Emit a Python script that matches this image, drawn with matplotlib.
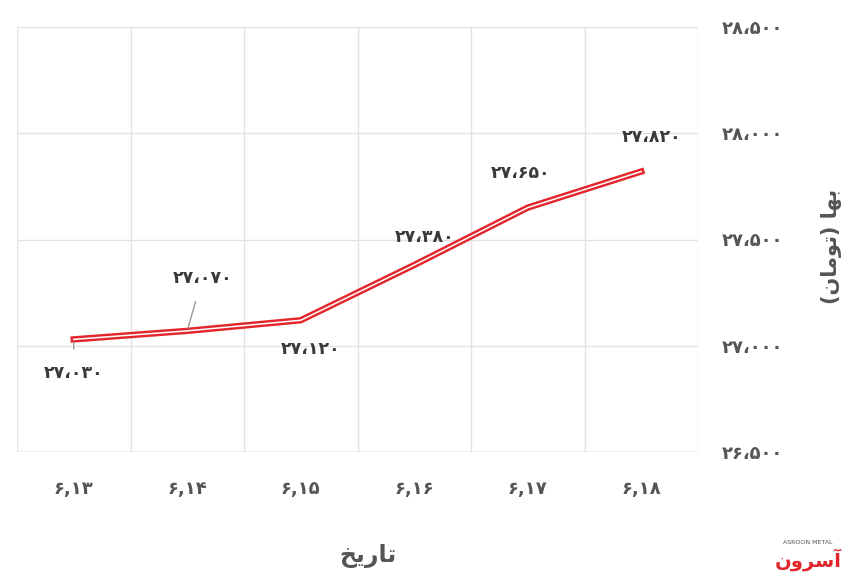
import matplotlib
matplotlib.use("Agg")
import matplotlib.pyplot as plt

# ---- data ----
categories = ["6,13", "6,14", "6,15", "6,16", "6,17", "6,18"]
prices = [27030, 27070, 27120, 27380, 27650, 27820]
y_ticks = [26500, 27000, 27500, 28000, 28500]

FA = str.maketrans("0123456789", "۰۱۲۳۴۵۶۷۸۹")

def fa_num(n):
    s = f"{n:,}".replace(",", "،")
    return s.translate(FA)

def fa_cat(s):
    return s.translate(FA)

# pre-shaped (visual order) Persian strings
xlabel_txt = "\uFEA6\uFEF3\uFEAD\uFE8E\uFE97"  # تاریخ
ylabel_txt = "(\uFEE5\uFE8E\uFEE3\uFEEE\uFE97) \uFE8E\uFEEC\uFE91"  # بها (تومان)
logo_txt = "\uFEE5\uFEED\uFEAE\uFEB3\uFE81"  # آسرون

plt.rcParams['font.family'] = ['DejaVu Sans']

W, H = 860, 586
fig = plt.figure(figsize=(W / 100, H / 100), dpi=100)
ax = fig.add_axes([17 / W, 1 - 452 / H, (698 - 17) / W, (452 - 27) / H])

x = list(range(len(categories)))
ax.plot(x, prices, color="#e3262c", lw=4.6, solid_joinstyle="round", zorder=3)
ax.plot(x, prices, color="white", lw=1.1, solid_joinstyle="round", zorder=4)

ax.set_xlim(-0.5, len(categories) - 0.5)
ax.set_ylim(y_ticks[0], y_ticks[-1])

ax.set_xticks(x)
ax.set_xticklabels([fa_cat(c) for c in categories], fontsize=13, fontweight="bold", color="#555555")
ax.set_xticks([i - 0.5 for i in range(len(categories) + 1)], minor=True)
ax.set_yticks(y_ticks)
ax.yaxis.tick_right()
ax.set_yticklabels([fa_num(v) for v in y_ticks], fontsize=13, fontweight="bold", color="#555555", ha="left")
ax.tick_params(axis="y", which="both", length=0, pad=17)
ax.tick_params(axis="x", which="both", length=0, pad=20)

ax.grid(True, axis="y", which="major", color="#e2e2e2", lw=1)
ax.grid(True, axis="x", which="minor", color="#e2e2e2", lw=1)
for s in ax.spines.values():
    s.set_visible(False)
ax.axhline(y_ticks[0], color="#d8d8d8", lw=1, zorder=1)

# data labels (offsets in pixels)
offsets = [(0, -34), (15, 53), (10, -29), (10, 28), (-7, 35), (10, 35)]
leaders = [True, True, False, False, False, False]
for xi, v, off, ld in zip(x, prices, offsets, leaders):
    kw = {}
    if ld:
        kw["arrowprops"] = dict(arrowstyle="-", color="#999999", lw=1, shrinkA=9, shrinkB=2)
    ax.annotate(fa_num(v), (xi, v), xytext=off, textcoords="offset pixels",
                ha="center", va="center", fontsize=12.5, fontweight="bold",
                color="#3a3a3a", zorder=5, **kw)

fig.text(368 / W, 1 - 556 / H, xlabel_txt, ha="center", va="center",
         fontsize=17, fontweight="bold", color="#555555")
fig.text(831 / W, 1 - 246 / H, ylabel_txt, ha="center", va="center",
         rotation=90, fontsize=15, fontweight="bold", color="#555555")

# logo
fig.text(808 / W, 1 - 560 / H, logo_txt, ha="center", va="center",
         fontsize=14, fontweight="bold", color="#e3262c")
fig.text(808 / W, 1 - 543 / H, "ASROON METAL", ha="center", va="center",
         fontsize=4.5, color="#555555")

fig.savefig("out.png", dpi=100, facecolor="white")
